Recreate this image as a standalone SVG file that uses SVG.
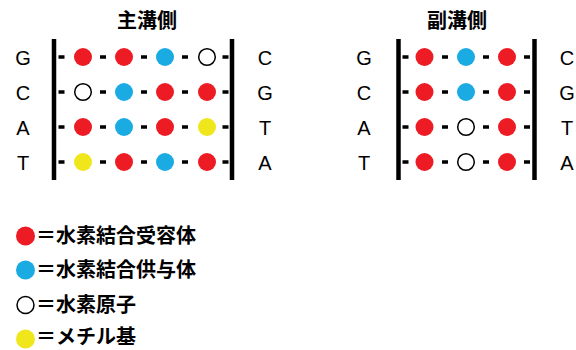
<svg xmlns="http://www.w3.org/2000/svg" width="576" height="350" viewBox="0 0 576 350">
<style>
.r{fill:#ED1C24}
.b{fill:#1BABE3}
.y{fill:#F0E61C}
.w{fill:#fff;stroke:#000;stroke-width:1.5}
.bar{stroke:#000;stroke-width:4.5}
.d{stroke:#000;stroke-width:3.5}
.base{font-family:"Liberation Sans",Arial,sans-serif;font-size:20px;fill:#000;text-anchor:middle}
.title{font-family:"Noto Sans CJK JP",sans-serif;font-size:20px;font-weight:bold;fill:#000;text-anchor:middle}
.leg{font-family:"Noto Sans CJK JP",sans-serif;font-size:20px;font-weight:bold;fill:#000}
</style>
<rect width="576" height="350" fill="#fff"/>
<g id="major">
<text class="title" x="147" y="28">主溝側</text>
<line class="bar" x1="54" y1="39" x2="54" y2="180"/>
<line class="bar" x1="232" y1="39" x2="232" y2="180"/>
<g class="base">
<text x="23" y="65">G</text><text x="23" y="100">C</text><text x="23" y="135">A</text><text x="23" y="170">T</text>
<text x="265" y="65">C</text><text x="265" y="100">G</text><text x="265" y="135">T</text><text x="265" y="170">A</text>
</g>
</g>
<g id="minor">
<text class="title" x="457" y="28">副溝側</text>
<line class="bar" x1="398.5" y1="39" x2="398.5" y2="180"/>
<line class="bar" x1="534.5" y1="39" x2="534.5" y2="180"/>
<g class="base">
<text x="364" y="65">G</text><text x="364" y="100">C</text><text x="364" y="135">A</text><text x="364" y="170">T</text>
<text x="567" y="65">C</text><text x="567" y="100">G</text><text x="567" y="135">T</text><text x="567" y="170">A</text>
</g>
</g>
<g id="connectors">
<g id="major-dashes">
<path class="d" d="M58.5 57h6M100 57h6M141 57h6M182 57h6M222.5 57h6"/>
<path class="d" d="M58.5 92h6M100 92h6M141 92h6M182 92h6M222.5 92h6"/>
<path class="d" d="M58.5 127h6M100 127h6M141 127h6M182 127h6M222.5 127h6"/>
<path class="d" d="M58.5 162h6M100 162h6M141 162h6M182 162h6M222.5 162h6"/>
</g>
<g id="minor-dashes">
<path class="d" d="M402.5 57h6M442 57h6M483 57h6M524 57h6"/>
<path class="d" d="M402.5 92h6M442 92h6M483 92h6M524 92h6"/>
<path class="d" d="M402.5 127h6M442 127h6M483 127h6M524 127h6"/>
<path class="d" d="M402.5 162h6M442 162h6M483 162h6M524 162h6"/>
</g>
</g>
<g id="major-GC">
<circle class="r" cx="83" cy="57" r="9"/><circle class="r" cx="124" cy="57" r="9"/><circle class="b" cx="165" cy="57" r="9"/><circle class="w" cx="207" cy="57" r="8.3"/>
</g>
<g id="major-CG">
<circle class="w" cx="83" cy="92" r="8.3"/><circle class="b" cx="124" cy="92" r="9"/><circle class="r" cx="165" cy="92" r="9"/><circle class="r" cx="207" cy="92" r="9"/>
</g>
<g id="major-AT">
<circle class="r" cx="83" cy="127" r="9"/><circle class="b" cx="124" cy="127" r="9"/><circle class="r" cx="165" cy="127" r="9"/><circle class="y" cx="207" cy="127" r="9"/>
</g>
<g id="major-TA">
<circle class="y" cx="83" cy="162" r="9"/><circle class="r" cx="124" cy="162" r="9"/><circle class="b" cx="165" cy="162" r="9"/><circle class="r" cx="207" cy="162" r="9"/>
</g>
<g id="minor-GC">
<circle class="r" cx="424.5" cy="57" r="9"/><circle class="b" cx="466" cy="57" r="9"/><circle class="r" cx="507" cy="57" r="9"/>
</g>
<g id="minor-CG">
<circle class="r" cx="424.5" cy="92" r="9"/><circle class="b" cx="466" cy="92" r="9"/><circle class="r" cx="507" cy="92" r="9"/>
</g>
<g id="minor-AT">
<circle class="r" cx="424.5" cy="127" r="9"/><circle class="w" cx="466" cy="127" r="8.3"/><circle class="r" cx="507" cy="127" r="9"/>
</g>
<g id="minor-TA">
<circle class="r" cx="424.5" cy="162" r="9"/><circle class="w" cx="466" cy="162" r="8.3"/><circle class="r" cx="507" cy="162" r="9"/>
</g>
<g id="legend">
<circle class="r" cx="25.5" cy="236" r="9.5"/><text class="leg" x="36" y="242.5">＝水素結合受容体</text>
<circle class="b" cx="25.5" cy="270" r="9.5"/><text class="leg" x="36" y="276.5">＝水素結合供与体</text>
<circle class="w" cx="25.5" cy="305" r="8.5"/><text class="leg" x="36" y="311.5">＝水素原子</text>
<circle class="y" cx="25.5" cy="339" r="9.5"/><text class="leg" x="36" y="344">＝メチル基</text>
</g>
</svg>
